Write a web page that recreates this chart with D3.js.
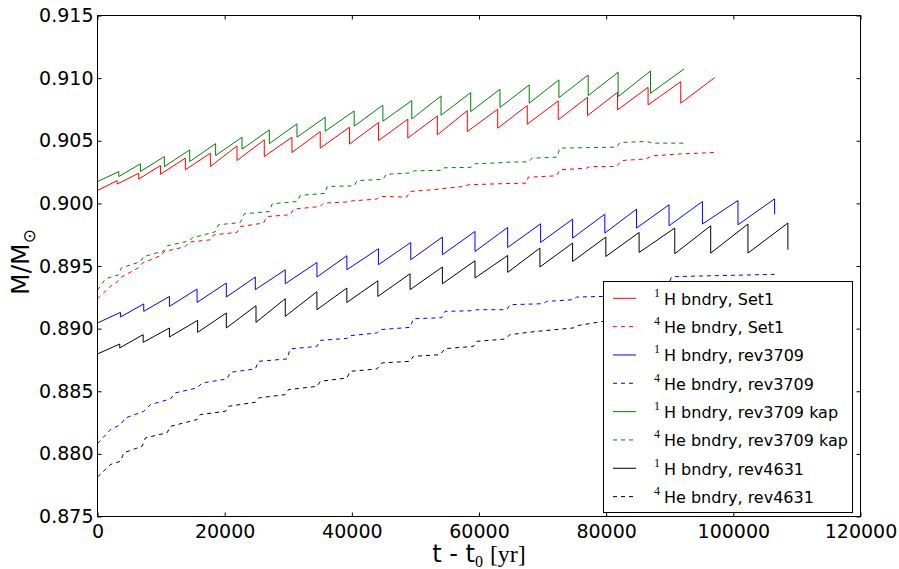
<!DOCTYPE html>
<html>
<head>
<meta charset="utf-8">
<script src="https://cdn.jsdelivr.net/npm/d3@7"></script>
<style>
body { margin: 0; background: #fff; }
svg { display: block; }
</style>
</head>
<body>
<script>
// axis ticks
var xTicks = [0, 20000, 40000, 60000, 80000, 100000, 120000];
var yTicks = [0.875, 0.880, 0.885, 0.890, 0.895, 0.900, 0.905, 0.910, 0.915];

// 1H boundary lines: mass at t=0, then for each pulse its time, mass before the drop and after it
var set1H_m0 = 0.90103;
var set1H_t = [3090, 6490, 9900, 13820, 17750, 21940, 26230, 30580, 35030, 39630, 44180, 48800, 53450, 58160, 62940, 67590, 72460, 77070, 81790, 86590, 91730];
var set1H_peak = [0.90182, 0.90241, 0.90302, 0.90361, 0.90401, 0.90459, 0.90507, 0.90528, 0.90573, 0.90608, 0.90645, 0.90672, 0.90698, 0.90741, 0.90752, 0.90781, 0.90818, 0.90848, 0.90887, 0.90927, 0.90972];
var set1H_dip = [0.90154, 0.90194, 0.90233, 0.90268, 0.90294, 0.90342, 0.90374, 0.90406, 0.90441, 0.90473, 0.90501, 0.90521, 0.90547, 0.90573, 0.90600, 0.90632, 0.90667, 0.90701, 0.90746, 0.90786, 0.90800];
var set1H_end = [97070, 0.91004];

var r3709H_m0 = 0.89045;
var r3709H_t = [3610, 7270, 11310, 15660, 20260, 24820, 29530, 34510, 39220, 44180, 49270, 54240, 59370, 64510, 69690, 74720, 79790, 84770, 89890, 95140, 100730, 106490];
var r3709H_peak = [0.89130, 0.89197, 0.89257, 0.89316, 0.89364, 0.89412, 0.89470, 0.89528, 0.89582, 0.89638, 0.89688, 0.89731, 0.89776, 0.89808, 0.89837, 0.89874, 0.89914, 0.89954, 0.89989, 0.90015, 0.90023, 0.90036];
var r3709H_dip = [0.89093, 0.89138, 0.89177, 0.89209, 0.89252, 0.89311, 0.89358, 0.89412, 0.89470, 0.89510, 0.89550, 0.89590, 0.89616, 0.89648, 0.89688, 0.89723, 0.89763, 0.89803, 0.89821, 0.89835, 0.89829, 0.89914];
var r3709H_end = null;

var kapH_m0 = 0.90174;
var kapH_t = [3350, 6750, 10520, 14500, 18580, 22730, 27020, 31370, 35810, 40370, 44880, 49430, 54030, 58700, 63300, 67900, 72570, 77170, 81880, 86970];
var kapH_peak = [0.90254, 0.90316, 0.90374, 0.90427, 0.90477, 0.90528, 0.90587, 0.90635, 0.90688, 0.90738, 0.90784, 0.90820, 0.90858, 0.90884, 0.90911, 0.90946, 0.90986, 0.91025, 0.91047, 0.91057];
var kapH_dip = [0.90214, 0.90254, 0.90294, 0.90334, 0.90382, 0.90433, 0.90477, 0.90528, 0.90576, 0.90616, 0.90656, 0.90674, 0.90704, 0.90733, 0.90765, 0.90800, 0.90844, 0.90860, 0.90852, 0.90879];
var kapH_end = [92250, 0.91073];

var r4631H_m0 = 0.88798;
var r4631H_t = [3500, 7180, 11310, 15750, 20260, 24930, 29530, 34510, 39220, 44090, 49160, 54240, 59370, 64510, 69580, 74720, 79950, 85180, 90790, 96440, 102300, 108580];
var r4631H_peak = [0.88877, 0.88952, 0.89005, 0.89066, 0.89125, 0.89183, 0.89239, 0.89295, 0.89324, 0.89382, 0.89438, 0.89492, 0.89542, 0.89584, 0.89643, 0.89683, 0.89731, 0.89768, 0.89803, 0.89821, 0.89835, 0.89843];
var r4631H_dip = [0.88846, 0.88890, 0.88933, 0.88970, 0.89005, 0.89050, 0.89098, 0.89151, 0.89209, 0.89257, 0.89311, 0.89358, 0.89404, 0.89449, 0.89492, 0.89536, 0.89576, 0.89608, 0.89598, 0.89603, 0.89603, 0.89630];
var r4631H_end = null;

// 4He boundary lines: time and mass
var set1He_t = [0, 2040, 3140, 3770, 6440, 7070, 9900, 10520, 13820, 14450, 17750, 18270, 21940, 22460, 26120, 26660, 30310, 30830, 35030, 35540, 39580, 40050, 43930, 44450, 48640, 49160, 53400, 53870, 57530, 58320, 62830, 67490, 67740, 72200, 72720, 76920, 77430, 81630, 82410, 86340, 87130, 91730, 97070];
var set1He_m = [0.89239, 0.89337, 0.89374, 0.89412, 0.89486, 0.89524, 0.89582, 0.89616, 0.89654, 0.89691, 0.89709, 0.89749, 0.89768, 0.89815, 0.89843, 0.89895, 0.89909, 0.89954, 0.89975, 0.90002, 0.90012, 0.90020, 0.90034, 0.90055, 0.90050, 0.90095, 0.90112, 0.90116, 0.90135, 0.90148, 0.90156, 0.90162, 0.90209, 0.90220, 0.90268, 0.90281, 0.90294, 0.90294, 0.90342, 0.90355, 0.90379, 0.90395, 0.90406];

var r3709He_t = [0, 2040, 3610, 4400, 7270, 8320, 11470, 12250, 15660, 16450, 20370, 20890, 24820, 25340, 29800, 30310, 34510, 35030, 39220, 39740, 43930, 44450, 49160, 49680, 54140, 54660, 59110, 59640, 64350, 64870, 70100, 70630, 74810, 75350, 79520, 84660, 85130, 89690, 90270, 94710, 106490];
var r3709He_m = [0.88082, 0.88194, 0.88234, 0.88287, 0.88340, 0.88393, 0.88439, 0.88487, 0.88527, 0.88566, 0.88598, 0.88651, 0.88678, 0.88739, 0.88758, 0.88838, 0.88858, 0.88906, 0.88922, 0.88944, 0.88965, 0.88992, 0.89010, 0.89079, 0.89087, 0.89138, 0.89143, 0.89151, 0.89151, 0.89191, 0.89199, 0.89217, 0.89231, 0.89252, 0.89257, 0.89267, 0.89319, 0.89327, 0.89414, 0.89420, 0.89433];

var kapHe_t = [0, 1260, 3300, 3770, 6750, 7230, 10520, 11000, 14450, 14920, 18530, 19010, 22460, 23090, 27020, 27490, 31410, 31890, 35810, 36130, 40370, 40840, 44920, 45390, 49480, 49790, 54030, 54500, 58740, 59370, 63300, 63770, 67850, 68320, 72250, 72720, 77120, 81680, 82150, 86390, 87330, 92250];
var kapHe_m = [0.89307, 0.89398, 0.89430, 0.89486, 0.89534, 0.89574, 0.89622, 0.89662, 0.89701, 0.89725, 0.89773, 0.89829, 0.89847, 0.89917, 0.89935, 0.89997, 0.90015, 0.90064, 0.90080, 0.90135, 0.90140, 0.90182, 0.90192, 0.90232, 0.90244, 0.90260, 0.90264, 0.90284, 0.90288, 0.90316, 0.90324, 0.90328, 0.90332, 0.90361, 0.90369, 0.90441, 0.90445, 0.90449, 0.90486, 0.90494, 0.90481, 0.90481];

var r4631He_t = [0, 2040, 3610, 4130, 7020, 7540, 10950, 11470, 15660, 16180, 20100, 20620, 24820, 25340, 29530, 30050, 34510, 35030, 39220, 39740, 43930, 44720, 49160, 49680, 53870, 54660, 59110, 59640, 64080, 64870, 69060, 74810, 75350, 79520, 85290, 90940, 96600, 102570, 108580];
var r4631He_m = [0.87815, 0.87915, 0.87941, 0.88008, 0.88061, 0.88128, 0.88168, 0.88220, 0.88274, 0.88314, 0.88340, 0.88380, 0.88412, 0.88447, 0.88473, 0.88513, 0.88539, 0.88579, 0.88606, 0.88659, 0.88678, 0.88726, 0.88739, 0.88779, 0.88792, 0.88840, 0.88858, 0.88898, 0.88917, 0.88952, 0.88978, 0.89005, 0.89023, 0.89058, 0.89079, 0.89103, 0.89127, 0.89143, 0.89151];

// legend labels (the superscript is the isotope mass number)
var labelIso = ["1", "4", "1", "4", "1", "4", "1", "4"];
var labelText = ["H bndry, Set1", "He bndry, Set1", "H bndry, rev3709", "He bndry, rev3709",
	"H bndry, rev3709 kap", "He bndry, rev3709 kap", "H bndry, rev4631", "He bndry, rev4631"];
var lineColors = ["#ff0000", "#ff0000", "#0000ff", "#0000ff", "#008000", "#008000", "#000000", "#000000"];

function sawtooth(m0, t, peak, dip, end) {
	var pts = [[0, m0]];
	for (var i = 0; i < t.length; i++) {
		pts.push([t[i], peak[i]]);
		pts.push([t[i], dip[i]]);
	}
	if (end) pts.push(end);
	return pts;
}
function zipPts(t, m) {
	return t.map(function (d, i) { return [d, m[i]]; });
}

var series = [
	sawtooth(set1H_m0, set1H_t, set1H_peak, set1H_dip, set1H_end),
	zipPts(set1He_t, set1He_m),
	sawtooth(r3709H_m0, r3709H_t, r3709H_peak, r3709H_dip, r3709H_end),
	zipPts(r3709He_t, r3709He_m),
	sawtooth(kapH_m0, kapH_t, kapH_peak, kapH_dip, kapH_end),
	zipPts(kapHe_t, kapHe_m),
	sawtooth(r4631H_m0, r4631H_t, r4631H_peak, r4631H_dip, r4631H_end),
	zipPts(r4631He_t, r4631He_m)
];

// 2. margin convention
var margin = { top: 15.5, right: 38.5, bottom: 52.5, left: 97.5 }
	, width = 899 - margin.left - margin.right
	, height = 569 - margin.top - margin.bottom;

var xScale = d3.scaleLinear().domain([0, 120000]).range([0, width]);
var yScale = d3.scaleLinear().domain([0.875, 0.915]).range([height, 0]);

var line = d3.line()
	.x(function (d) { return xScale(d[0]); })
	.y(function (d) { return yScale(d[1]); });

var svg = d3.select("body").append("svg")
	.attr("width", 899)
	.attr("height", 569)
	.append("g")
	.attr("transform", "translate(" + margin.left + "," + margin.top + ")");

// 3. lines, in plotting order
svg.selectAll(".line")
	.data(series)
	.enter()
	.append("path")
	.attr("class", "line")
	.attr("d", line)
	.attr("fill", "none")
	.attr("stroke", function (d, i) { return lineColors[i]; })
	.attr("stroke-width", 1)
	.attr("stroke-dasharray", function (d, i) { return i % 2 ? "4,4" : null; });

// 4. axes: ticks point inward on all four sides
function styleAxis(g) {
	g.select(".domain").remove();
	g.selectAll("line").attr("stroke", "#000");
	g.selectAll("text")
		.attr("fill", "#000")
		.attr("font-family", "DejaVu Sans, sans-serif")
		.attr("font-size", 19);
}
svg.append("g")
	.attr("transform", "translate(0," + height + ")")
	.call(d3.axisBottom(xScale).tickValues(xTicks).tickSizeInner(-4).tickSizeOuter(0).tickPadding(8).tickFormat(d3.format("d")))
	.call(styleAxis);
svg.append("g")
	.call(d3.axisTop(xScale).tickValues(xTicks).tickSizeInner(-4).tickSizeOuter(0).tickFormat(""))
	.call(styleAxis);
svg.append("g")
	.call(d3.axisLeft(yScale).tickValues(yTicks).tickSizeInner(-4).tickSizeOuter(0).tickPadding(4).tickFormat(d3.format(".3f")))
	.call(styleAxis);
svg.append("g")
	.attr("transform", "translate(" + width + ",0)")
	.call(d3.axisRight(yScale).tickValues(yTicks).tickSizeInner(-4).tickSizeOuter(0).tickFormat(""))
	.call(styleAxis);

svg.append("rect")
	.attr("width", width)
	.attr("height", height)
	.attr("fill", "none")
	.attr("stroke", "#000")
	.attr("stroke-width", 1);

// 5. axis labels
var xl = svg.append("text")
	.attr("x", width / 2)
	.attr("y", height + 45)
	.attr("text-anchor", "middle")
	.attr("font-family", "DejaVu Sans, sans-serif")
	.attr("font-size", 24);
xl.append("tspan").text("t - t");
xl.append("tspan").attr("font-family", "Liberation Serif, serif").attr("font-size", 16).attr("dy", 5).text("0");
xl.append("tspan").attr("font-family", "Liberation Serif, serif").attr("dy", -5).attr("dx", 7).text("[yr]");

var yl = svg.append("text")
	.attr("transform", "translate(" + (29 - margin.left) + "," + (262 - margin.top) + ") rotate(-90)")
	.attr("text-anchor", "middle")
	.attr("font-family", "DejaVu Sans, sans-serif")
	.attr("font-size", 25);
yl.append("tspan").text("M/M");
yl.append("tspan").attr("font-size", 17).attr("dy", 6).text("\u2299");

// 6. legend box
var legend = svg.append("g").attr("transform", "translate(506,266)");
legend.append("rect")
	.attr("width", 249)
	.attr("height", 231)
	.attr("fill", "#fff")
	.attr("stroke", "#000")
	.attr("stroke-width", 1);

var rows = legend.selectAll(".row")
	.data(labelText)
	.enter()
	.append("g")
	.attr("class", "row")
	.attr("transform", function (d, i) { return "translate(0," + (16.8 + i * 28.33) + ")"; });
rows.append("line")
	.attr("x1", 9.5).attr("x2", 32.5)
	.attr("stroke", function (d, i) { return lineColors[i]; })
	.attr("stroke-width", 1)
	.attr("stroke-dasharray", function (d, i) { return i % 2 ? "4,4" : null; });
rows.append("text")
	.attr("x", 50.5).attr("y", -1.5)
	.attr("fill", "#000")
	.attr("font-family", "Liberation Serif, serif")
	.attr("font-size", 12)
	.text(function (d, i) { return labelIso[i]; });
rows.append("text")
	.attr("x", 60.5).attr("y", 6.5)
	.attr("fill", "#000")
	.attr("font-family", "DejaVu Sans, sans-serif")
	.attr("font-size", 16)
	.text(function (d) { return d; });
</script>
</body>
</html>
